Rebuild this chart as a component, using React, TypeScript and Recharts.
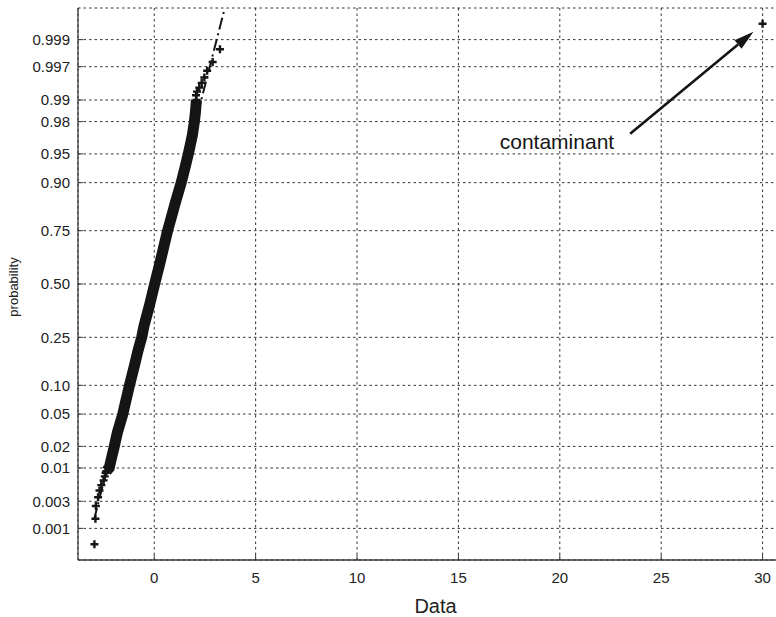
// Normal probability plot with one contaminant far off the line
import { ScatterChart, Scatter, XAxis, YAxis, CartesianGrid, ReferenceLine } from 'recharts'

const FONT = '"Liberation Sans", Arial, Helvetica, sans-serif'
const INK = '#151515'
const AXIS = '#3a3a3a'

// dense middle of the sorted sample, read along the black band
const bandX = [-2.36, -2.22, -2.08, -1.97, -1.82, -1.55, -1.4, -1.22, -0.98, -0.8, -0.62, -0.5, -0.22, 0.02, 0.27, 0.52, 0.66, 0.84, 1.05, 1.33, 1.52, 1.68, 1.88, 1.98, 2.03, 2.08]
const bandP = [0.009, 0.01, 0.015, 0.02, 0.03, 0.05, 0.07, 0.1, 0.15, 0.2, 0.25, 0.3, 0.4, 0.5, 0.6, 0.7, 0.75, 0.8, 0.85, 0.9, 0.93, 0.95, 0.97, 0.98, 0.985, 0.99]

// single markers in both tails, last one is the contaminant
const tailX = [-2.95, -2.9, -2.88, -2.77, -2.7, -2.61, -2.5, -2.44, -2.4, 2.06, 2.11, 2.22, 2.34, 2.47, 2.61, 2.88, 3.24, 30]
const tailP = [0.0005, 0.0015, 0.0025, 0.0035, 0.0045, 0.0055, 0.0065, 0.0075, 0.0085, 0.9915, 0.9925, 0.9935, 0.9945, 0.9955, 0.9965, 0.9975, 0.9985, 0.9995]

// fitted reference line (y already in normal-quantile units)
const refX = [-2.97, 30]
const refZ = [-2.98, 30.1]

// annotation arrow: from the text to the contaminant (y in quantile units)
const arrowX = [23.47, 29.55]
const arrowZ = [1.9, 3.19]

const xTicks = [0, 5, 10, 15, 20, 25, 30]
const probTicks = [0.001, 0.003, 0.01, 0.02, 0.05, 0.1, 0.25, 0.5, 0.75, 0.9, 0.95, 0.98, 0.99, 0.997, 0.999]
const probLabels = ['0.001', '0.003', '0.01', '0.02', '0.05', '0.10', '0.25', '0.50', '0.75', '0.90', '0.95', '0.98', '0.99', '0.997', '0.999']

// inverse normal cdf (Acklam) -> probability axis is linear in z
function probit(p: number): number {
  const a = [-39.69683028665376, 220.9460984245205, -275.9285104469687, 138.357751867269, -30.66479806614716, 2.506628277459239]
  const b = [-54.47609879822406, 161.5858368580409, -155.6989798598866, 66.80131188771972, -13.28068155288572]
  const c = [-0.007784894002430293, -0.3223964580411365, -2.400758277161838, -2.549732539343734, 4.374664141464968, 2.938163982698783]
  const d = [0.007784695709041462, 0.3224671290700398, 2.445134137142996, 3.754408661907416]
  const plow = 0.02425
  if (p < plow) {
    const q = Math.sqrt(-2 * Math.log(p))
    return (((((c[0] * q + c[1]) * q + c[2]) * q + c[3]) * q + c[4]) * q + c[5]) / ((((d[0] * q + d[1]) * q + d[2]) * q + d[3]) * q + 1)
  }
  if (p > 1 - plow) {
    const q = Math.sqrt(-2 * Math.log(1 - p))
    return -(((((c[0] * q + c[1]) * q + c[2]) * q + c[3]) * q + c[4]) * q + c[5]) / ((((d[0] * q + d[1]) * q + d[2]) * q + d[3]) * q + 1)
  }
  const q = p - 0.5
  const r = q * q
  return ((((((a[0] * r + a[1]) * r + a[2]) * r + a[3]) * r + a[4]) * r + a[5]) * q) / (((((b[0] * r + b[1]) * r + b[2]) * r + b[3]) * r + b[4]) * r + 1)
}

const bandData = bandX.map((x, i) => ({ x, z: probit(bandP[i]) }))
const tailData = tailX.map((x, i) => ({ x, z: probit(tailP[i]) }))
const refData = refX.map((x, i) => ({ x, z: refZ[i] }))
const zTicks = probTicks.map(probit)

function Plus(props: any) {
  const { cx, cy } = props
  if (cx == null || cy == null) return <g />
  return (
    <path
      d={`M${cx - 4},${cy}H${cx + 4}M${cx},${cy - 4}V${cy + 4}`}
      stroke={INK}
      strokeWidth={2.4}
      fill="none"
    />
  )
}

function Arrow(props: any) {
  const { x1, y1, x2, y2 } = props
  const ang = Math.atan2(y2 - y1, x2 - x1)
  const len = 20
  const hw = 5.5
  const bx = x2 - len * Math.cos(ang)
  const by = y2 - len * Math.sin(ang)
  const px = -Math.sin(ang) * hw
  const py = Math.cos(ang) * hw
  return (
    <g>
      <line x1={x1} y1={y1} x2={bx} y2={by} stroke={INK} strokeWidth={2.6} />
      <polygon points={`${x2},${y2} ${bx + px},${by + py} ${bx - px},${by - py}`} fill={INK} />
      <text x={x1 - 16} y={y1 + 15} textAnchor="end" fontFamily={FONT} fontSize={21} fill={INK}>
        contaminant
      </text>
    </g>
  )
}

const tickStyle = { fill: '#222', fontSize: 15, fontFamily: FONT }

export default function App() {
  return (
    <div style={{ position: 'fixed', left: 0, top: 0, width: 776, height: 617, overflow: 'hidden', background: '#fff' }}>
      <ScatterChart width={793} height={617} margin={{ top: 8, right: 0, bottom: 0, left: 0 }}>
        <CartesianGrid stroke="#333" strokeDasharray="2.5 3" strokeWidth={1} />
        <XAxis
          type="number"
          dataKey="x"
          domain={[-3.76, 31.5]}
          ticks={xTicks}
          allowDataOverflow
          height={57}
          tickSize={-5}
          tickMargin={17}
          tick={tickStyle}
          axisLine={{ stroke: AXIS, strokeWidth: 1.3 }}
          tickLine={{ stroke: AXIS }}
          label={{ value: 'Data', position: 'insideBottom', offset: 4, fontSize: 20, fontFamily: FONT, fill: '#222' }}
        />
        <XAxis
          xAxisId="top"
          orientation="top"
          type="number"
          domain={[-3.76, 31.5]}
          ticks={xTicks}
          height={0}
          tickSize={-5}
          tick={false}
          axisLine={{ stroke: AXIS, strokeWidth: 1.3 }}
          tickLine={{ stroke: AXIS }}
        />
        <YAxis
          type="number"
          dataKey="z"
          domain={[-3.49, 3.49]}
          ticks={zTicks}
          allowDataOverflow
          interval={0}
          width={78}
          tickSize={-5}
          tickMargin={13}
          tick={tickStyle}
          tickFormatter={(_v: number, i: number) => probLabels[i]}
          axisLine={{ stroke: AXIS, strokeWidth: 1.3 }}
          tickLine={{ stroke: AXIS }}
          label={{
            content: () => (
              <text x={18} y={287} transform="rotate(-90 18 287)" textAnchor="middle" fontFamily={FONT} fontSize={13} fill="#222">
                probability
              </text>
            ),
          }}
        />
        <Scatter
          data={refData}
          isAnimationActive={false}
          fill={INK}
          shape={() => <g />}
          line={{ stroke: INK, strokeWidth: 2, strokeDasharray: '12 4 2 4' }}
        />
        <Scatter
          data={bandData}
          isAnimationActive={false}
          fill={INK}
          shape={Plus}
          line={{ stroke: INK, strokeWidth: 11 }}
        />
        <Scatter data={tailData} isAnimationActive={false} fill={INK} shape={Plus} />
        <ReferenceLine
          segment={[
            { x: arrowX[0], y: arrowZ[0] },
            { x: arrowX[1], y: arrowZ[1] },
          ]}
          shape={Arrow}
        />
      </ScatterChart>
    </div>
  )
}
